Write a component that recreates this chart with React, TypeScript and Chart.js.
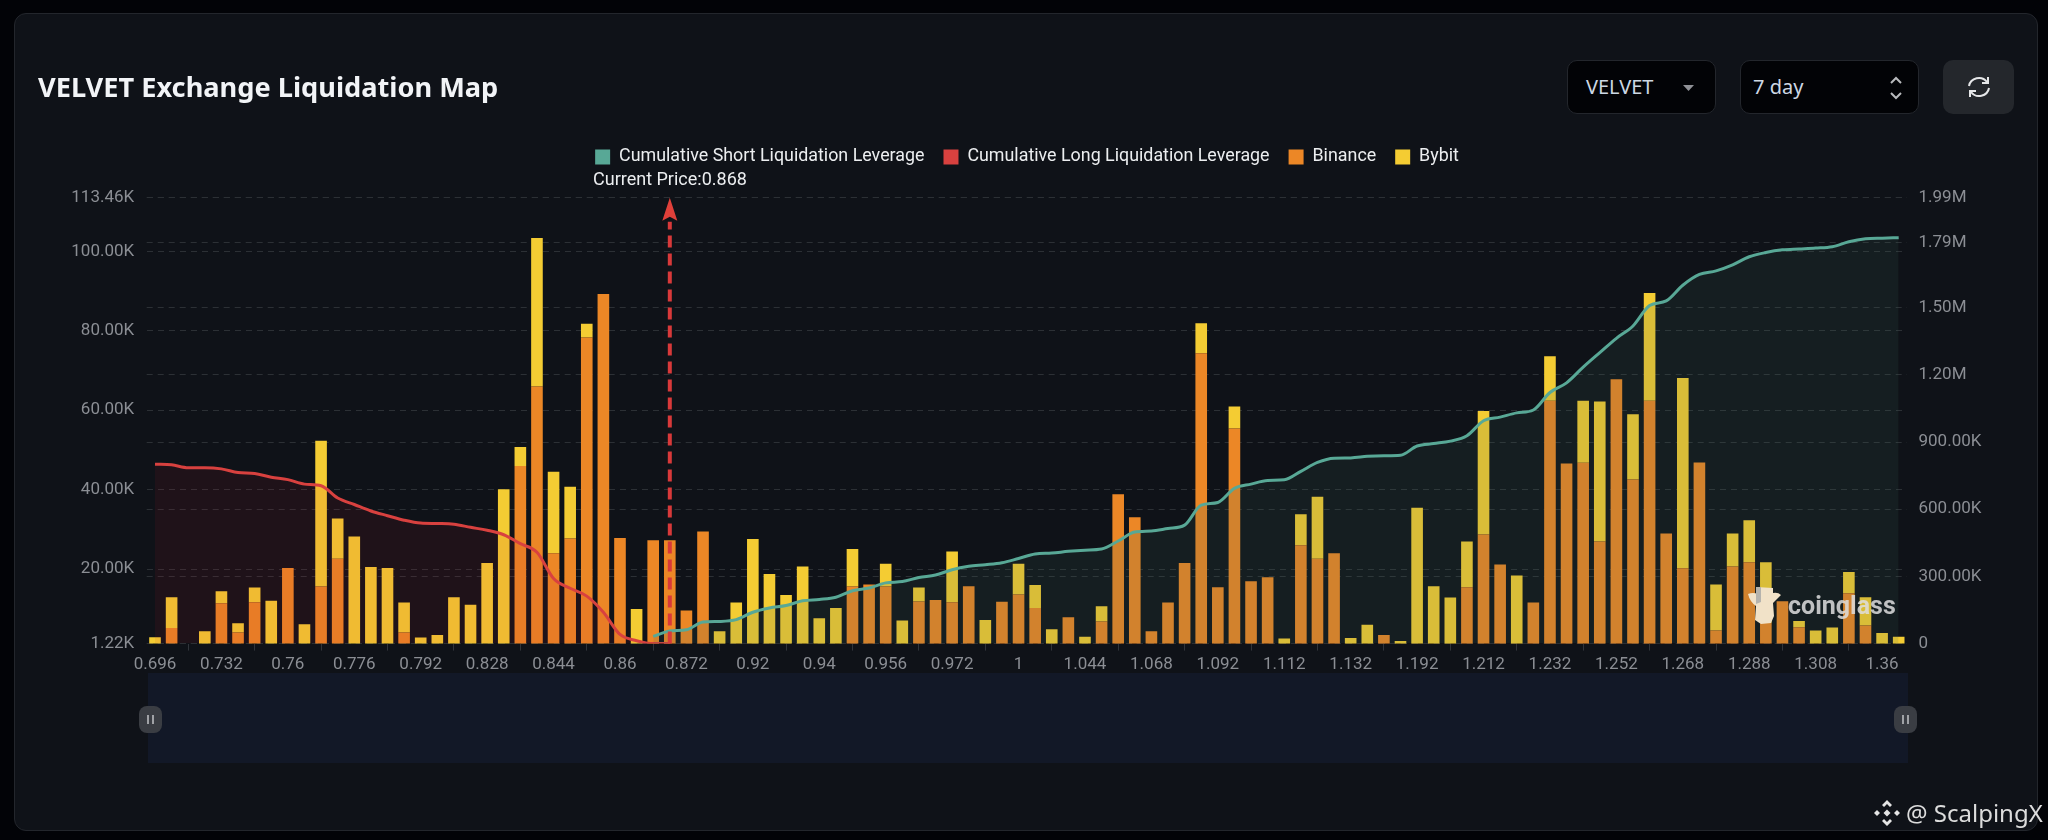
import { useEffect, useRef } from "react";
import { Chart, registerables } from "chart.js";

Chart.register(...registerables);

const categories = [
  "0.696", "0.7", "0.708", "0.72",
  "0.732", "0.74", "0.744", "0.752",
  "0.76", "0.764", "0.768", "0.772",
  "0.776", "0.78", "0.784", "0.788",
  "0.792", "0.796", "0.804", "0.816",
  "0.828", "0.832", "0.836", "0.84",
  "0.844", "0.848", "0.852", "0.856",
  "0.86", "0.864", "0.866", "0.868",
  "0.872", "0.88", "0.896", "0.908",
  "0.92", "0.924", "0.928", "0.936",
  "0.94", "0.944", "0.948", "0.952",
  "0.956", "0.96", "0.964", "0.968",
  "0.972", "0.976", "0.98", "0.988",
  "1", "1.008", "1.02", "1.032",
  "1.044", "1.048", "1.052", "1.06",
  "1.068", "1.072", "1.076", "1.084",
  "1.092", "1.096", "1.1", "1.108",
  "1.112", "1.116", "1.12", "1.128",
  "1.132", "1.14", "1.156", "1.176",
  "1.192", "1.196", "1.2", "1.208",
  "1.212", "1.216", "1.22", "1.228",
  "1.232", "1.236", "1.24", "1.248",
  "1.252", "1.256", "1.26", "1.264",
  "1.268", "1.272", "1.276", "1.284",
  "1.288", "1.292", "1.296", "1.304",
  "1.308", "1.316", "1.328", "1.344",
  "1.36", "1.372",
];

// all values in thousands
const binance = [
  0, 5.17, 0, 0, 11.37, 4.0, 11.64, 0, 20.26, 0,
  15.59, 22.59, 0, 0, 0, 4.0, 0, 0, 0, 0,
  0, 0, 45.94, 65.97, 23.94, 27.71, 78.27, 89.22, 27.8, 0,
  27.26, 27.26, 9.57, 29.42, 0, 0, 0, 0, 0, 0,
  0, 0, 15.59, 16.13, 15.59, 0, 11.82, 12.18, 11.64, 15.68,
  0, 11.73, 13.61, 10.2, 0, 7.87, 0, 6.79, 38.85, 33.01,
  4.36, 11.55, 21.51, 74.32, 15.41, 55.37, 16.94, 17.92, 0, 26.0,
  22.59, 23.94, 0, 0, 3.38, 0, 0, 0, 0, 15.41,
  28.7, 21.16, 0, 11.55, 62.37, 46.57, 46.75, 26.9, 67.76, 42.53,
  62.37, 28.97, 20.17, 46.84, 4.54, 20.62, 21.69, 6.43, 11.91, 5.35,
  0, 0, 13.88, 5.8, 0, 0,
];

const bybit = [
  2.84, 7.72, 0, 4.36, 3.05, 2.34, 3.68, 12.0, 0, 6.07,
  36.73, 10.15, 28.16, 20.53, 20.26, 7.55, 2.75, 3.38, 12.89, 11.01,
  21.51, 40.1, 4.76, 37.35, 20.56, 13.02, 3.5, 0, 0, 9.93,
  0, 0, 0, 0, 4.36, 11.55, 27.53, 18.73, 13.43, 20.62,
  7.6, 10.2, 9.43, 0, 5.75, 7.06, 3.5, 0, 12.75, 0,
  7.15, 0, 7.73, 5.75, 4.81, 0, 2.93, 3.86, 0, 0,
  0, 0, 0, 7.54, 0, 5.57, 0, 0, 2.48, 7.82,
  15.63, 0, 2.66, 5.98, 0, 1.85, 35.43, 15.68, 12.8, 11.49,
  31.07, 0, 18.37, 0, 11.23, 0, 15.62, 35.29, 0, 16.43,
  27.12, 0, 47.95, 0, 11.59, 8.35, 10.6, 15.26, 0, 1.53,
  4.54, 5.26, 5.39, 7.09, 3.91, 2.93,
];

const longLeverage = [
  801, 798, 785, 785, 780, 764, 759, 743, 732, 712,
  705, 650, 621, 592, 571, 551, 538, 536, 533, 519,
  506, 486, 446, 408, 291, 247, 212, 140, 41, 13,
  0, 0, null, null, null, null, null, null, null, null,
  null, null, null, null, null, null, null, null, null, null,
  null, null, null, null, null, null, null, null, null, null,
  null, null, null, null, null, null, null, null, null, null,
  null, null, null, null, null, null, null, null, null, null,
  null, null, null, null, null, null, null, null, null, null,
  null, null, null, null, null, null, null, null, null, null,
  null, null, null, null, null, null,
];

const shortLeverage = [
  null, null, null, null, null, null, null, null, null, null,
  null, null, null, null, null, null, null, null, null, null,
  null, null, null, null, null, null, null, null, null, null,
  32, 56, 62, 96, 99, 107, 140, 159, 170, 191,
  197, 207, 236, 248, 271, 277, 295, 306, 330, 345,
  352, 361, 380, 400, 404, 412, 417, 422, 458, 498,
  503, 514, 529, 618, 630, 693, 712, 728, 731, 769,
  809, 828, 829, 836, 839, 841, 882, 893, 904, 928,
  995, 1011, 1030, 1043, 1121, 1164, 1234, 1299, 1363, 1418,
  1509, 1530, 1600, 1648, 1664, 1691, 1727, 1746, 1758, 1762,
  1766, 1772, 1794, 1807, 1810, 1812,
];

const leftTicks = [1.22, 20, 40, 60, 80, 100, 113.46];
const rightTicks = [0, 300, 600, 900, 1200, 1500, 1790, 1990];
const currentPrice = "0.868";

const TICK_FONT = { family: "Roboto", size: 17 };
const TICK_COLOR = "#8b8e94";
const GRID_COLOR = "#2c3035";

const fmtK = (v: number) => {
  if (v === 0) return "0";
  if (v >= 1000) return (v / 1000).toFixed(2) + "M";
  return v.toFixed(2) + "K";
};

// moves the legend into place and draws the current price marker
const priceMarker = {
  id: "priceMarker",
  afterLayout(chart: any) {
    chart.legend.top -= 22;
    chart.legend.bottom -= 22;
    chart.legend.left += 3;
    chart.legend.right += 3;
  },
  afterDatasetsDraw(chart: any) {
    const { ctx, chartArea, scales } = chart;
    const x = scales.x.getPixelForValue(categories.indexOf(currentPrice));
    ctx.save();
    ctx.strokeStyle = "#d8393a";
    ctx.fillStyle = "#e0403a";
    ctx.lineWidth = 4;
    ctx.setLineDash([12, 6]);
    ctx.beginPath();
    ctx.moveTo(x, chartArea.bottom);
    ctx.lineTo(x, chartArea.top + 24);
    ctx.stroke();
    ctx.setLineDash([]);
    ctx.beginPath();
    ctx.moveTo(x, chartArea.top);
    ctx.lineTo(x + 7.5, chartArea.top + 23);
    ctx.lineTo(x, chartArea.top + 19);
    ctx.lineTo(x - 7.5, chartArea.top + 23);
    ctx.closePath();
    ctx.fill();
    ctx.fillStyle = "#eceef0";
    ctx.font = "18px Roboto";
    ctx.textBaseline = "middle";
    ctx.textAlign = "left";
    ctx.fillText("Current Price:" + currentPrice, 593, 180);
    ctx.restore();
  },
};

const LiquidationChart = () => {
  const chartRef = useRef<HTMLCanvasElement>(null);

  useEffect(() => {
    const myChart = new Chart(chartRef.current!, {
      type: "bar",
      data: {
        labels: categories,
        datasets: [
          {
            type: "line",
            label: "Cumulative Short Liquidation Leverage",
            data: shortLeverage,
            yAxisID: "y1",
            order: 0,
            borderColor: "#58a896",
            backgroundColor: "#58a896",
            borderWidth: 3,
            pointRadius: 0,
            cubicInterpolationMode: "monotone",
            fill: { target: "origin", above: "rgba(63,105,90,0.145)" },
          },
          {
            type: "line",
            label: "Cumulative Long Liquidation Leverage",
            data: longLeverage,
            yAxisID: "y1",
            order: 0,
            borderColor: "#d8413f",
            backgroundColor: "#d8413f",
            borderWidth: 3,
            pointRadius: 0,
            cubicInterpolationMode: "monotone",
            fill: { target: "origin", above: "rgba(200,20,40,0.09)" },
          },
          {
            label: "Binance",
            data: binance,
            yAxisID: "y",
            order: 1,
            backgroundColor: "#ec8726",
            categoryPercentage: 0.7,
            barPercentage: 1,
          },
          {
            label: "Bybit",
            data: bybit,
            yAxisID: "y",
            order: 1,
            backgroundColor: "#f4cc33",
            categoryPercentage: 0.7,
            barPercentage: 1,
          },
        ] as any,
      },
      options: {
        responsive: false,
        animation: false,
        layout: { padding: { top: 151, left: 0, right: 0, bottom: 0 } },
        plugins: {
          tooltip: { enabled: false },
          legend: {
            position: "top",
            labels: {
              color: "#eceef0",
              font: { family: "Roboto", size: 17.85 },
              boxWidth: 15,
              boxHeight: 15,
              padding: 19,
              generateLabels: (chart: any) =>
                Chart.defaults.plugins.legend.labels
                  .generateLabels(chart)
                  .map((item: any) => ({ ...item, lineWidth: 0 })),
            },
          },
        },
        scales: {
          x: {
            stacked: true,
            afterFit: (scale: any) => {
              scale.height = 196.4;
            },
            border: { display: false },
            grid: {
              drawOnChartArea: false,
              tickColor: "#30343a",
              tickLength: 7,
            },
            ticks: {
              color: TICK_COLOR,
              font: TICK_FONT,
              padding: 4,
              autoSkip: false,
              maxRotation: 0,
              callback: (_v: any, i: number) => (i % 4 === 0 ? categories[i] : null),
            },
          },
          y: {
            stacked: true,
            position: "left",
            min: 1.22,
            max: 113.46,
            afterFit: (scale: any) => {
              scale.width = 146.7;
            },
            afterBuildTicks: (axis: any) => {
              axis.ticks = leftTicks.map((value) => ({ value }));
            },
            border: { display: false, dash: [6, 5] },
            grid: { color: GRID_COLOR, drawTicks: false },
            ticks: {
              color: TICK_COLOR,
              font: TICK_FONT,
              padding: 12.5,
              callback: (v: any) => fmtK(v),
            },
          },
          y1: {
            position: "right",
            min: 0,
            max: 1990,
            afterFit: (scale: any) => {
              scale.width = 141;
            },
            afterBuildTicks: (axis: any) => {
              axis.ticks = rightTicks.map((value) => ({ value }));
            },
            border: { display: false, dash: [6, 5] },
            grid: { color: GRID_COLOR, drawTicks: false },
            ticks: {
              color: TICK_COLOR,
              font: TICK_FONT,
              padding: 11.5,
              callback: (v: any) => fmtK(v),
            },
          },
        },
      } as any,
      plugins: [priceMarker],
    });

    return () => myChart.destroy();
  }, []);

  return <canvas ref={chartRef} width={2048} height={840} style={{ position: "absolute", left: 0, top: 0 }} />;
};

const box = (left: number, top: number, width: number, height: number): React.CSSProperties => ({
  position: "absolute",
  left,
  top,
  width,
  height,
  boxSizing: "border-box",
});

const Handle = ({ left }: { left: number }) => (
  <div style={{ ...box(left, 706, 23, 27), background: "#3a3d43", borderRadius: 8 }}>
    <div style={{ ...box(8, 9, 2, 9), background: "#a0a2a6" }} />
    <div style={{ ...box(13, 9, 2, 9), background: "#a0a2a6" }} />
  </div>
);

const controlStyle = { background: "#020306", border: "1px solid #23262c", borderRadius: 10 };
const controlText: React.CSSProperties = {
  position: "absolute",
  top: 12,
  fontFamily: "Noto Sans",
  fontSize: 20,
  lineHeight: "28px",
  color: "#cdd8e4",
};

export default function App() {
  return (
    <div style={{ ...box(0, 0, 2048, 840), background: "#020307", overflow: "hidden" }}>
      <div style={{ ...box(14, 13, 2024, 818), background: "#0f1218", border: "1px solid #23262c", borderRadius: 12 }} />
      <div style={{ ...box(148, 673, 1760, 90), background: "#121827" }} />
      <Handle left={139} />
      <Handle left={1894} />
      <LiquidationChart />

      <div
        style={{
          position: "absolute",
          left: 38,
          top: 68,
          fontFamily: "Noto Sans",
          fontWeight: 700,
          fontSize: 27.2,
          lineHeight: "38px",
          color: "#f2f4f7",
          whiteSpace: "nowrap",
        }}
      >
        VELVET Exchange Liquidation Map
      </div>

      <div style={{ ...box(1567, 60, 149, 54), ...controlStyle }}>
        <span style={{ ...controlText, left: 18 }}>VELVET</span>
        <svg style={box(113, 22, 16, 10)} viewBox="0 0 16 10">
          <path d="M2 2 H13 L7.5 8 Z" fill="#8f9196" />
        </svg>
      </div>
      <div style={{ ...box(1740, 60, 179, 54), ...controlStyle }}>
        <span style={{ ...controlText, left: 12 }}>7 day</span>
        <svg style={box(147, 14, 16, 26)} viewBox="0 0 16 26" fill="none" stroke="#b8babd" strokeWidth="2">
          <path d="M3 8 L8 3 L13 8" />
          <path d="M3 18 L8 23 L13 18" />
        </svg>
      </div>
      <div style={{ ...box(1943, 60, 71, 54), background: "#24272c", borderRadius: 10 }}>
        <svg style={box(23, 15, 26, 24)} viewBox="0 0 26 24" fill="none" stroke="#e6e7e9" strokeWidth="2">
          <path d="M3 11 A10 9.5 0 0 1 21 7" />
          <path d="M23 13 A10 9.5 0 0 1 5 17" />
          <path d="M22 2 V8 H16" />
          <path d="M4 22 V16 H10" />
        </svg>
      </div>

      <svg style={box(1747, 586, 36, 40)} viewBox="0 0 36 40">
        <path
          d="M1 8 Q6 6 11 8 L9 1 L26 2 L26 7 Q31 6 34 9 L26 17 L27 30 L24 37 L14 38 L8 34 L9 20 Q3 16 1 8 Z"
          fill="#f1e2c8"
        />
        <path d="M9 1 L14 1 L14 16 L9 18 Z" fill="#b5b3ad" />
      </svg>
      <div
        style={{
          position: "absolute",
          left: 1788,
          top: 590,
          fontFamily: "Roboto",
          fontWeight: 700,
          fontSize: 25,
          lineHeight: "32px",
          color: "rgba(222,222,222,0.85)",
        }}
      >
        coinglass
      </div>

      <svg style={box(1873, 799, 28, 28)} viewBox="0 0 28 28" fill="#e4e4e4">
        <path d="M14 1 L19 6 L17 8 L14 5 L11 8 L9 6 Z" />
        <path d="M14 27 L19 22 L17 20 L14 23 L11 20 L9 22 Z" />
        <path d="M4 11 L7 14 L4 17 L1 14 Z" />
        <path d="M24 11 L27 14 L24 17 L21 14 Z" />
        <path d="M14 10.5 L17.5 14 L14 17.5 L10.5 14 Z" />
      </svg>
      <div
        style={{
          position: "absolute",
          left: 1906,
          top: 796,
          fontFamily: "Noto Sans",
          fontSize: 24,
          lineHeight: "34px",
          color: "#dcdcdc",
          whiteSpace: "nowrap",
        }}
      >
        @ ScalpingX
      </div>
    </div>
  );
}
